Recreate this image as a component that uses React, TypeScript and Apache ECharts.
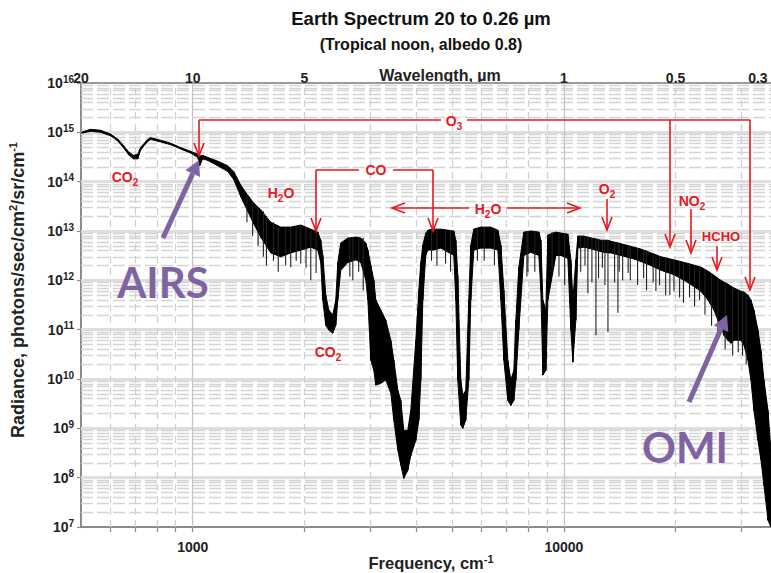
import React, { useEffect, useRef } from 'react';
import * as echarts from 'echarts';

// ---- Spectrum envelope (frequency cm^-1, radiance photons/sec/cm2/sr/cm-1) ----
const freq = [
  502, 531, 565, 601, 628, 652, 672, 693, 711, 724,
  757, 770, 820, 873, 928, 988, 1032, 1044, 1064, 1098,
  1168, 1243, 1290, 1347, 1407, 1460, 1525, 1623, 1727, 1837,
  1955, 2080, 2173, 2213, 2241, 2283, 2326, 2385, 2429, 2460,
  2505, 2617, 2750, 2837, 2927, 2964, 3019, 3076, 3114, 3212,
  3313, 3418, 3482, 3570, 3636, 3704, 3797, 3869, 3991, 4067,
  4117, 4169, 4246, 4300, 4436, 4661, 5052, 5115, 5178, 5276,
  5342, 5441, 5544, 5614, 5719, 5974, 6356, 6640, 6765, 6892,
  7063, 7196, 7332, 7424, 7562, 7801, 8148, 8562, 8670, 8778,
  8943, 9055, 9516, 9815, 10250, 10444, 10575, 10772, 10908, 11322,
  11607, 12202, 12586, 13146, 13393, 13985, 14694, 15443, 16130, 17165,
  18266, 19796, 21593, 23403, 24438, 25365, 26004, 26494, 26993, 27669,
  28190, 28726, 30000, 30563, 31333, 31917, 32518, 33339, 33963, 34603,
  35478, 36143, 37279,
];
const upper = [
  1.01e15, 1.15e15, 1.1e15, 9.2e14, 7.3e14, 5.3e14, 4.0e14, 3.4e14, 3.6e14, 5.0e14,
  7.2e14, 7.8e14, 6.9e14, 6.0e14, 4.9e14, 4.1e14, 3.6e14, 3.3e14, 3.4e14, 3.1e14,
  2.6e14, 2.1e14, 1.6e14, 8.5e13, 5.3e13, 3.7e13, 2.7e13, 1.5e13, 1.2e13, 1.2e13,
  1.32e13, 1.09e13, 9.5e12, 6.5e12, 3.2e12, 5.0e11, 2.5e11, 2.0e11, 4.0e11, 2.3e12,
  5.7e12, 7.2e12, 7.5e12, 7.2e12, 5.7e12, 4.1e12, 2.0e12, 1.0e12, 4.0e11, 2.5e11,
  1.56e11, 6.1e10, 2.4e10, 5.9e9, 3.7e9, 9.1e8, 9.1e8, 2.3e9, 6.1e10, 6.3e11,
  2.3e12, 5.2e12, 9.1e12, 1.04e13, 1.09e13, 1.09e13, 1.0e13, 6.5e12, 1.27e12, 9.5e9,
  4.7e9, 5.9e9, 4.0e11, 5.2e12, 1.09e13, 1.2e13, 1.2e13, 1.04e13, 5.2e12, 6.3e11,
  2.4e10, 9.5e9, 1.5e10, 1.56e11, 1.85e12, 9.5e12, 1.0e13, 9.5e12, 6.5e12, 4.0e11,
  2.5e11, 8.3e12, 9.5e12, 9.1e12, 8.6e12, 2.6e12, 4.0e11, 2.6e12, 7.9e12, 7.9e12,
  7.5e12, 6.9e12, 6.5e12, 6.5e12, 6.2e12, 5.7e12, 5.2e12, 4.7e12, 4.3e12, 3.6e12,
  3.0e12, 2.6e12, 2.2e12, 1.85e12, 1.54e12, 1.27e12, 1.1e12, 1.0e12, 9.2e11, 8.4e11,
  7.6e11, 7.0e11, 6.0e11, 5.8e11, 5.0e11, 4.0e11, 2.5e11, 9.8e10, 3.8e10, 9.5e9,
  2.3e9, 3.5e8, 2.0e7,
];
const lower = [
  9.6e14, 1.05e15, 1.0e15, 8.5e14, 6.7e14, 4.8e14, 3.5e14, 2.9e14, 2.9e14, 4.4e14,
  6.6e14, 7.2e14, 6.4e14, 5.6e14, 4.6e14, 3.8e14, 3.1e14, 2.1e14, 2.9e14, 2.7e14,
  2.1e14, 1.6e14, 1.1e14, 5.0e13, 2.5e13, 1.4e13, 7.5e12, 3.6e12, 3.0e12, 3.6e12,
  4.1e12, 4.7e12, 4.1e12, 2.3e12, 4.0e11, 1.23e11, 9.8e10, 8.5e10, 1.23e11, 4.0e11,
  1.6e12, 2.3e12, 2.6e12, 2.3e12, 1.0e12, 4.0e11, 2.4e10, 1.5e10, 7.5e9, 8.2e9,
  9.5e9, 5.2e9, 1.46e9, 3.6e8, 1.8e8, 9.7e7, 1.4e8, 2.8e8, 5.7e8, 1.46e9,
  9.5e9, 4.0e11, 3.2e12, 4.1e12, 4.1e12, 4.5e12, 3.2e12, 4.0e11, 9.5e9, 1.16e9,
  1.0e9, 1.46e9, 9.5e9, 4.0e11, 4.1e12, 4.5e12, 4.5e12, 4.1e12, 4.0e11, 2.4e10,
  3.7e9, 2.9e9, 3.7e9, 9.5e9, 9.8e10, 3.2e12, 3.7e12, 3.2e12, 6.3e11, 1.2e10,
  1.5e10, 4.0e11, 3.2e12, 3.2e12, 2.8e12, 9.8e10, 2.2e10, 1.56e11, 4.5e12, 4.7e12,
  4.5e12, 4.1e12, 3.8e12, 3.6e12, 3.6e12, 3.3e12, 3.0e12, 2.7e12, 2.4e12, 2.0e12,
  1.6e12, 1.3e12, 9.0e11, 6.0e11, 4.0e11, 2.5e11, 1.56e11, 1.23e11, 7.7e10, 6.1e10,
  5.3e10, 6.1e10, 6.1e10, 4.9e10, 2.4e10, 9.5e9, 2.3e9, 5.7e8, 2.3e8, 7.0e7,
  1.37e7, 1.0e7, 1.0e7,
];

// ---- narrow absorption lines (frequency, top, bottom) ----
const spikeFreq = [
  1400, 1450, 1500, 1550, 1580, 1650, 1700, 1780, 1837, 1900,
  1955, 2020, 2080, 2150, 2650, 2700, 2800, 2880, 4400, 4550,
  4800, 4950, 5850, 6100, 6500, 7950, 8000, 8350, 9300, 9700,
  10050, 11100, 11607, 11900, 12202, 12400, 12900, 13146, 13700, 13985,
  14400, 15100, 15800, 16700, 17700, 18800, 19300, 20500, 21000, 22500,
  24000, 25000, 26000, 27200, 28500, 29500, 30300, 31000,
  11400, 12700, 14100, 14900, 16400, 17400, 18100, 19800, 21800, 23200,
];
const spikeTop = [
  5.0e13, 4.0e13, 3.0e13, 2.5e13, 2.0e13, 1.5e13, 1.2e13, 1.2e13, 1.2e13, 1.25e13,
  1.3e13, 1.2e13, 1.09e13, 9.5e12, 7.2e12, 7.5e12, 7.4e12, 7.2e12, 1.09e13, 1.09e13,
  1.05e13, 1.02e13, 1.15e13, 1.2e13, 1.15e13, 1.0e13, 1.0e13, 9.8e12, 9.5e12, 9.2e12,
  8.8e12, 7.9e12, 7.5e12, 7.2e12, 6.9e12, 6.7e12, 6.5e12, 6.5e12, 6.0e12, 5.7e12,
  5.4e12, 4.9e12, 4.5e12, 4.0e12, 3.3e12, 2.9e12, 2.7e12, 2.4e12, 2.3e12, 2.0e12,
  1.7e12, 1.4e12, 1.1e12, 8.8e11, 7.2e11, 6.3e11, 5.9e11, 5.2e11,
  7.7e12, 6.5e12, 5.6e12, 5.0e12, 4.1e12, 3.5e12, 3.1e12, 2.6e12, 2.2e12, 1.9e12,
];
const spikeBottom = [
  1.5e13, 8.0e12, 5.0e12, 3.0e12, 2.0e12, 2.5e12, 1.5e12, 2.0e12, 1.85e12, 2.5e12,
  2.2e12, 1.8e12, 1.0e12, 1.4e12, 1.2e12, 1.0e12, 1.5e12, 6.3e11, 2.5e12, 2.0e12,
  2.2e12, 1.5e12, 2.5e12, 2.5e12, 2.0e12, 1.2e12, 1.5e12, 1.5e12, 1.5e12, 1.2e12,
  8.0e11, 1.5e12, 5.5e11, 9.0e11, 7.7e10, 1.1e12, 8.0e11, 8.9e10, 9.0e11, 2.2e11,
  1.0e12, 1.0e12, 8.0e11, 6.3e11, 6.0e11, 5.0e11, 5.0e11, 4.5e11, 3.5e11, 3.0e11,
  2.0e11, 1.2e11, 8.0e10, 4.0e10, 3.0e10, 3.5e10, 3.0e10, 2.0e10,
  2.0e12, 1.8e12, 1.5e12, 1.4e12, 1.1e12, 9.0e11, 8.0e11, 6.0e11, 4.5e11, 4.0e11,
];

// ---- axes ----
const freqMin = 500;
const freqMax = 38462;
const bottomTickValues = [600, 700, 800, 900, 1000, 2000, 3000, 4000, 5000, 6000, 7000, 8000, 9000, 10000, 20000, 30000];
const bottomLabelValues = [1000, 10000];
const wavelengths = [20, 10, 5, 1, 0.5, 0.3];
const wavelengthLabels = ['20', '10', '5', '1', '0.5', '0.3'];
const majorFreqLines = [1000, 10000];
const minorFreqLines = [600, 700, 800, 900, 2000, 3000, 4000, 5000, 6000, 7000, 8000, 9000, 20000, 30000];
const decadeLines = [1e8, 1e9, 1e10, 1e11, 1e12, 1e13, 1e14, 1e15];
const decadeBases = [1e7, 1e8, 1e9, 1e10, 1e11, 1e12, 1e13, 1e14, 1e15];
const minorMantissas = [2, 3, 4, 5, 6, 7, 8, 9];

const FONT = '"Liberation Sans", Arial, sans-serif';
const RED = '#e8171f';
const PURPLE = '#8064a2';

function redLabel(x: number, y: number, main: string, sub = '', after = '', size = 14): any {
  let style: any;
  if (sub) {
    style = {
      text: `{m|${main}}{s|${sub}}` + (after ? `{m|${after}}` : ''),
      rich: {
        m: { fontSize: size, fontWeight: 'bold', fontFamily: FONT, fill: RED, color: RED, lineHeight: size + 6 },
        s: { fontSize: size - 4, fontWeight: 'bold', fontFamily: FONT, fill: RED, color: RED, verticalAlign: 'bottom', lineHeight: size - 2 },
      },
    };
  } else {
    style = { text: main, font: `bold ${size}px ${FONT}` };
  }
  return {
    type: 'text', x, y, z: 50,
    style: { ...style, fill: RED, align: 'center', verticalAlign: 'middle', textAlign: 'center', textVerticalAlign: 'middle' },
  };
}

function redLine(x1: number, y1: number, x2: number, y2: number): any {
  return { type: 'line', z: 50, shape: { x1, y1, x2, y2 }, style: { stroke: RED, lineWidth: 1.6 } };
}

function downArrow(x: number, y1: number, y2: number): any[] {
  return [
    redLine(x, y1, x, y2),
    { type: 'polyline', z: 50, shape: { points: [[x - 5, y2 - 13], [x, y2], [x + 5, y2 - 13]] }, style: { stroke: RED, lineWidth: 1.6, fill: 'none' } },
  ];
}

function purpleArrow(tx: number, ty: number, hx: number, hy: number): any[] {
  const dx = hx - tx;
  const dy = hy - ty;
  const len = Math.sqrt(dx * dx + dy * dy);
  const ux = dx / len, uy = dy / len;
  const bx = hx - ux * 15, by = hy - uy * 15;
  const px = -uy, py = ux;
  return [
    { type: 'line', z: 60, shape: { x1: tx, y1: ty, x2: bx, y2: by }, style: { stroke: PURPLE, lineWidth: 5 } },
    { type: 'polygon', z: 60, shape: { points: [[hx, hy], [bx + px * 8, by + py * 8], [bx - px * 8, by - py * 8]] }, style: { fill: PURPLE } },
  ];
}

export default function App() {
  const ref = useRef<HTMLDivElement>(null);

  useEffect(() => {
    if (!ref.current) return;
    const chart = echarts.init(ref.current, undefined, { renderer: 'svg' });

    const gridLineData: any[] = [];
    decadeBases.forEach((b) => {
      minorMantissas.forEach((m) => {
        gridLineData.push({ yAxis: b * m, lineStyle: { type: [12, 4], width: 1.3, color: '#d4d4d4' } });
      });
    });
    decadeLines.forEach((v) => gridLineData.push({ yAxis: v, lineStyle: { type: 'solid', width: 3, color: '#dedede' } }));
    minorFreqLines.forEach((v) => gridLineData.push({ xAxis: v, lineStyle: { type: [7, 5], width: 1.2, color: '#cfcfcf' } }));
    majorFreqLines.forEach((v) => gridLineData.push({ xAxis: v, lineStyle: { type: 'solid', width: 1.2, color: '#c4c4c4' } }));

    const topLabelFreqs = wavelengths.map((w) => 1e4 / w);
    const supRich = {
      b: { fontSize: 14, fontWeight: 'bold', fontFamily: FONT, color: '#222', lineHeight: 18 },
      s: { fontSize: 10, fontWeight: 'bold', fontFamily: FONT, color: '#222', verticalAlign: 'top', lineHeight: 10 },
    };

    const graphics: any[] = [
      { type: 'text', x: 421, y: 18, style: { text: 'Earth Spectrum 20 to 0.26 µm', font: `bold 18.5px ${FONT}`, fill: '#111', align: 'center', verticalAlign: 'middle', textAlign: 'center', textVerticalAlign: 'middle' } },
      { type: 'text', x: 421, y: 44, style: { text: '(Tropical noon, albedo 0.8)', font: `bold 16px ${FONT}`, fill: '#111', align: 'center', verticalAlign: 'middle', textAlign: 'center', textVerticalAlign: 'middle' } },
      // O3 bracket
      redLine(199, 120, 441, 120),
      redLine(467, 120, 750, 120),
      redLabel(454, 121, 'O', '3'),
      ...downArrow(199, 120, 156),
      ...downArrow(670, 120, 247),
      ...downArrow(750, 120, 290),
      // CO bracket
      redLine(316, 170, 359, 170),
      redLine(393, 170, 433, 170),
      redLabel(376, 170, 'CO'),
      ...downArrow(316, 170, 231),
      ...downArrow(433, 170, 231),
      // H2O double arrow
      redLine(392, 208, 469, 208),
      redLine(507, 208, 580, 208),
      { type: 'polyline', z: 50, shape: { points: [[405, 203], [392, 208], [405, 213]] }, style: { stroke: RED, lineWidth: 1.6, fill: 'none' } },
      { type: 'polyline', z: 50, shape: { points: [[567, 203], [580, 208], [567, 213]] }, style: { stroke: RED, lineWidth: 1.6, fill: 'none' } },
      redLabel(488, 209, 'H', '2', 'O'),
      redLabel(281, 193, 'H', '2', 'O'),
      redLabel(125, 177, 'CO', '2'),
      redLabel(328, 352, 'CO', '2'),
      // O2
      redLabel(607, 189, 'O', '2'),
      ...downArrow(607, 199, 230),
      // NO2
      redLabel(692, 201, 'NO', '2'),
      ...downArrow(691, 209, 253),
      // HCHO
      redLabel(721, 236, 'HCHO', '', '', 13),
      ...downArrow(717, 246, 270),
      // Purple instrument labels
      { type: 'text', x: 163, y: 282, z: 60, style: { text: 'AIRS', font: `bold 42px Lato, "Open Sans", sans-serif`, fill: PURPLE, align: 'center', verticalAlign: 'middle', textAlign: 'center', textVerticalAlign: 'middle' } },
      ...purpleArrow(163, 238, 199, 160),
      { type: 'text', x: 685, y: 447, z: 60, style: { text: 'OMI', font: `bold 42px Lato, "Open Sans", sans-serif`, fill: PURPLE, align: 'center', verticalAlign: 'middle', textAlign: 'center', textVerticalAlign: 'middle' } },
      ...purpleArrow(689, 402, 727, 315),
    ];

    const option: any = {
      animation: false,
      backgroundColor: '#ffffff',
      grid: { left: 81, right: -10, top: 83, bottom: 46, containLabel: false, outerBoundsMode: 'none' },
      xAxis: [
        {
          type: 'log',
          logBase: 10,
          min: freqMin,
          max: freqMax,
          position: 'bottom',
          name: '{t|Frequency, cm}{s|-1}',
          nameLocation: 'middle',
          nameGap: 26,
          nameMoveOverlap: false,
          nameTextStyle: {
            rich: {
              t: { fontSize: 16.5, fontWeight: 'bold', fontFamily: FONT, color: '#222', lineHeight: 20 },
              s: { fontSize: 11, fontWeight: 'bold', fontFamily: FONT, color: '#222', verticalAlign: 'top', lineHeight: 10 },
            },
          },
          axisLine: { show: true, lineStyle: { color: '#8a8a8a', width: 2 } },
          axisTick: { show: true, length: 5, customValues: bottomTickValues, lineStyle: { color: '#8a8a8a', width: 1.2 } },
          axisLabel: {
            customValues: bottomLabelValues,
            formatter: (v: number) => String(Math.round(v)),
            fontSize: 14, fontWeight: 'bold', fontFamily: FONT, color: '#222', margin: 13,
          },
          splitLine: { show: false },
          minorTick: { show: false },
        },
        {
          type: 'log',
          logBase: 10,
          min: freqMin,
          max: freqMax,
          position: 'top',
          name: 'Wavelength, µm',
          nameLocation: 'middle',
          nameGap: 0,
          nameMoveOverlap: false,
          nameTextStyle: { fontSize: 16, fontWeight: 'bold', fontFamily: FONT, color: '#222', padding: [0, 0, 0, 18] },
          axisLine: { show: true, lineStyle: { color: '#9a9a9a', width: 2 } },
          axisTick: { show: false },
          axisLabel: {
            customValues: topLabelFreqs,
            formatter: (v: number) => {
              for (let i = 0; i < wavelengths.length; i++) {
                const f = 1e4 / wavelengths[i];
                if (Math.abs(f - v) / f < 0.01) return wavelengthLabels[i];
              }
              return '';
            },
            fontSize: 14, fontWeight: 'bold', fontFamily: FONT, color: '#222', margin: -2,
          },
          splitLine: { show: false },
        },
      ],
      yAxis: {
        type: 'log',
        logBase: 10,
        min: 1e7,
        max: 1e16,
        splitNumber: 9,
        name: 'Radiance, photons/sec/cm{s|2}/sr/cm{s|-1}',
        nameLocation: 'middle',
        nameRotate: 90,
        nameGap: 52,
        nameMoveOverlap: false,
        nameTextStyle: {
          fontSize: 18, fontWeight: 'bold', fontFamily: FONT, color: '#222', lineHeight: 22,
          padding: [0, 0, 0, 30],
          rich: {
            s: { fontSize: 11, fontWeight: 'bold', fontFamily: FONT, color: '#222', verticalAlign: 'top', lineHeight: 11 },
          },
        },
        axisLine: { show: true, lineStyle: { color: '#8a8a8a', width: 2 } },
        axisTick: { show: true, length: 4, lineStyle: { color: '#8a8a8a', width: 1.2 } },
        axisLabel: {
          margin: 7,
          formatter: (v: number) => `{b|10}{s|${Math.round(Math.log10(v))}}`,
          rich: supRich,
        },
        splitLine: { show: false },
      },
      series: [
        {
          type: 'line',
          data: [],
          silent: true,
          z: 1,
          markLine: {
            silent: true,
            symbol: ['none', 'none'],
            label: { show: false },
            animation: false,
            data: gridLineData,
          },
        },
        {
          type: 'custom',
          coordinateSystem: 'cartesian2d',
          xAxisIndex: 0,
          yAxisIndex: 0,
          silent: true,
          clip: true,
          z: 5,
          data: freq.map((f, i) => [f, upper[i], lower[i]]),
          encode: { x: 0, y: [1, 2] },
          renderItem: (params: any, api: any) => {
            const i = params.dataIndex;
            if (i >= freq.length - 1) return { type: 'group', children: [] };
            const a = api.coord([freq[i], upper[i]]);
            const b = api.coord([freq[i + 1], upper[i + 1]]);
            const c = api.coord([freq[i + 1], lower[i + 1]]);
            const d = api.coord([freq[i], lower[i]]);
            return {
              type: 'polygon',
              shape: { points: [a, b, c, d] },
              style: { fill: '#000', stroke: '#000', lineWidth: 1 },
            };
          },
        },
        {
          type: 'custom',
          coordinateSystem: 'cartesian2d',
          xAxisIndex: 0,
          yAxisIndex: 0,
          silent: true,
          clip: true,
          z: 6,
          data: spikeFreq.map((f, i) => [f, spikeTop[i], spikeBottom[i]]),
          encode: { x: 0, y: [1, 2] },
          renderItem: (params: any, api: any) => {
            const p1 = api.coord([api.value(0), api.value(1)]);
            const p2 = api.coord([api.value(0), api.value(2)]);
            return {
              type: 'line',
              shape: { x1: p1[0], y1: p1[1], x2: p2[0], y2: p2[1] },
              style: { stroke: '#222', lineWidth: 1.1 },
            };
          },
        },
      ],
      graphic: graphics,
    };

    chart.setOption(option);
    return () => chart.dispose();
  }, []);

  return <div ref={ref} style={{ position: 'absolute', left: 0, top: 0, width: 771, height: 573 }} />;
}
